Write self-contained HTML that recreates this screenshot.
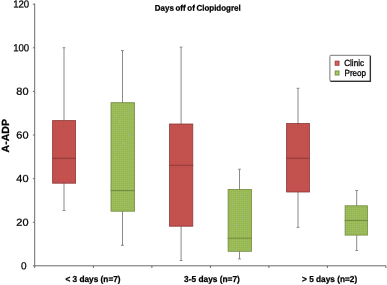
<!DOCTYPE html>
<html><head><meta charset="utf-8"><title>Days off of Clopidogrel</title>
<style>
html,body{margin:0;padding:0;background:#fff;}
body{width:387px;height:285px;overflow:hidden;}
svg{display:block;}
text{font-family:"Liberation Sans",sans-serif;fill:#000;text-rendering:geometricPrecision;}
.b{font-weight:bold;}
</style></head><body>
<svg width="387" height="285" viewBox="0 0 387 285">
<defs>
<pattern id="pr" width="2" height="2" patternUnits="userSpaceOnUse"><rect width="2" height="2" fill="#c5524f"/><rect x="1" y="1" width="1" height="1" fill="#bb4d4a"/></pattern>
<pattern id="pg" width="2" height="2" patternUnits="userSpaceOnUse"><rect width="2" height="2" fill="#9dbd5a"/><rect x="1" y="1" width="1" height="1" fill="#93b353"/></pattern>
</defs>
<rect width="387" height="285" fill="#fff"/>

<g stroke="#6a6a6a" stroke-width="1" fill="none">
<line x1="34.7" y1="3.6" x2="34.7" y2="268"/>
<line x1="32.9" y1="265.8" x2="386" y2="265.8"/>
<line x1="32.9" y1="222.3" x2="34.7" y2="222.3"/>
<line x1="32.9" y1="178.7" x2="34.7" y2="178.7"/>
<line x1="32.9" y1="135.0" x2="34.7" y2="135.0"/>
<line x1="32.9" y1="91.4" x2="34.7" y2="91.4"/>
<line x1="32.9" y1="47.8" x2="34.7" y2="47.8"/>
<line x1="32.9" y1="4.2" x2="34.7" y2="4.2"/>
<line x1="93.4" y1="265.8" x2="93.4" y2="268.0"/>
<line x1="151.9" y1="265.8" x2="151.9" y2="268.0"/>
<line x1="210.4" y1="265.8" x2="210.4" y2="268.0"/>
<line x1="268.9" y1="265.8" x2="268.9" y2="268.0"/>
<line x1="327.4" y1="265.8" x2="327.4" y2="268.0"/>
<line x1="385.9" y1="265.8" x2="385.9" y2="268.0"/>
</g>
<g stroke="#8a8a8a" stroke-width="1"><line x1="64.0" y1="47.7" x2="64.0" y2="210.5"/>
<line x1="62.6" y1="47.7" x2="65.4" y2="47.7"/><line x1="62.6" y1="210.5" x2="65.4" y2="210.5"/></g>
<rect x="52.60" y="120.60" width="23.00" height="62.60" fill="url(#pr)" stroke="#8c3a38" stroke-width="0.8"/>
<line x1="52.20" y1="158.30" x2="76.00" y2="158.30" stroke="#8c3a38" stroke-width="1"/>
<g stroke="#8a8a8a" stroke-width="1"><line x1="122.5" y1="50.6" x2="122.5" y2="245.3"/>
<line x1="121.0" y1="50.6" x2="123.9" y2="50.6"/><line x1="121.0" y1="245.3" x2="123.9" y2="245.3"/></g>
<rect x="111.00" y="102.70" width="23.50" height="108.50" fill="url(#pg)" stroke="#71893f" stroke-width="0.8"/>
<line x1="110.60" y1="190.60" x2="134.90" y2="190.60" stroke="#71893f" stroke-width="1"/>
<g stroke="#8a8a8a" stroke-width="1"><line x1="181.1" y1="47.1" x2="181.1" y2="260.5"/>
<line x1="179.7" y1="47.1" x2="182.5" y2="47.1"/><line x1="179.7" y1="260.5" x2="182.5" y2="260.5"/></g>
<rect x="169.50" y="124.00" width="23.30" height="102.20" fill="url(#pr)" stroke="#8c3a38" stroke-width="0.8"/>
<line x1="169.10" y1="165.30" x2="193.20" y2="165.30" stroke="#8c3a38" stroke-width="1"/>
<g stroke="#8a8a8a" stroke-width="1"><line x1="239.5" y1="169.2" x2="239.5" y2="258.9"/>
<line x1="238.1" y1="169.2" x2="240.9" y2="169.2"/><line x1="238.1" y1="258.9" x2="240.9" y2="258.9"/></g>
<rect x="228.10" y="189.40" width="23.40" height="61.90" fill="url(#pg)" stroke="#71893f" stroke-width="0.8"/>
<line x1="227.70" y1="238.20" x2="251.90" y2="238.20" stroke="#71893f" stroke-width="1"/>
<g stroke="#8a8a8a" stroke-width="1"><line x1="298.0" y1="88.3" x2="298.0" y2="227.4"/>
<line x1="296.6" y1="88.3" x2="299.4" y2="88.3"/><line x1="296.6" y1="227.4" x2="299.4" y2="227.4"/></g>
<rect x="286.60" y="123.40" width="22.90" height="68.60" fill="url(#pr)" stroke="#8c3a38" stroke-width="0.8"/>
<line x1="286.20" y1="158.20" x2="309.90" y2="158.20" stroke="#8c3a38" stroke-width="1"/>
<g stroke="#8a8a8a" stroke-width="1"><line x1="356.7" y1="190.5" x2="356.7" y2="250.5"/>
<line x1="355.3" y1="190.5" x2="358.1" y2="190.5"/><line x1="355.3" y1="250.5" x2="358.1" y2="250.5"/></g>
<rect x="345.10" y="205.80" width="22.30" height="29.30" fill="url(#pg)" stroke="#71893f" stroke-width="0.8"/>
<line x1="344.70" y1="220.40" x2="367.80" y2="220.40" stroke="#71893f" stroke-width="1"/>
<g fill="#aeb4bd"><rect x="119" y="121" width="1" height="1"/><rect x="125" y="113" width="1" height="1"/><rect x="123" y="143" width="1" height="1"/><rect x="115" y="157" width="1" height="1"/><rect x="115" y="150" width="1" height="1"/><rect x="115" y="115" width="1" height="1"/><rect x="116" y="128" width="1" height="1"/><rect x="124" y="202" width="1" height="1"/><rect x="124" y="146" width="1" height="1"/><rect x="130" y="111" width="1" height="1"/><rect x="128" y="135" width="1" height="1"/><rect x="116" y="118" width="1" height="1"/><rect x="234" y="224" width="1" height="1"/><rect x="242" y="213" width="1" height="1"/><rect x="240" y="196" width="1" height="1"/><rect x="232" y="204" width="1" height="1"/><rect x="242" y="216" width="1" height="1"/><rect x="236" y="225" width="1" height="1"/><rect x="355" y="216" width="1" height="1"/><rect x="360" y="224" width="1" height="1"/><rect x="356" y="228" width="1" height="1"/></g>
<text x="21.10" y="269.30" transform="rotate(0.03 21.10 269.30)" font-size="10.2" stroke="#000" stroke-width="0.25" textLength="5.6" lengthAdjust="spacingAndGlyphs">0</text>
<text x="16.30" y="225.68" transform="rotate(0.03 16.30 225.68)" font-size="10.2" stroke="#000" stroke-width="0.25" textLength="12.2" lengthAdjust="spacingAndGlyphs">20</text>
<text x="16.30" y="182.06" transform="rotate(0.03 16.30 182.06)" font-size="10.2" stroke="#000" stroke-width="0.25" textLength="12.2" lengthAdjust="spacingAndGlyphs">40</text>
<text x="16.30" y="138.44" transform="rotate(0.03 16.30 138.44)" font-size="10.2" stroke="#000" stroke-width="0.25" textLength="12.2" lengthAdjust="spacingAndGlyphs">60</text>
<text x="16.30" y="94.82" transform="rotate(0.03 16.30 94.82)" font-size="10.2" stroke="#000" stroke-width="0.25" textLength="12.2" lengthAdjust="spacingAndGlyphs">80</text>
<text x="13.15" y="51.20" transform="rotate(0.03 13.15 51.20)" font-size="10.2" stroke="#000" stroke-width="0.25" textLength="16.1" lengthAdjust="spacingAndGlyphs">100</text>
<text x="13.15" y="7.58" transform="rotate(0.03 13.15 7.58)" font-size="10.2" stroke="#000" stroke-width="0.25" textLength="16.1" lengthAdjust="spacingAndGlyphs">120</text>
<text class="b" x="154.80" y="10.70" transform="rotate(0.03 154.80 10.70)" font-size="8.3" stroke="#000" stroke-width="0.25" textLength="85.9" lengthAdjust="spacingAndGlyphs" word-spacing="-0.6">Days off of Clopidogrel</text>
<text class="b" font-size="10.4" stroke="#000" stroke-width="0.25" text-anchor="middle" textLength="33.4" lengthAdjust="spacingAndGlyphs" transform="translate(9.4,135.75) rotate(-90)">A-ADP</text>
<text class="b" x="65.40" y="282.00" transform="rotate(0.03 65.40 282.00)" font-size="8.7" stroke="#000" stroke-width="0.25" textLength="55.2" lengthAdjust="spacingAndGlyphs">&lt; 3 days (n=7)</text>
<text class="b" x="184.10" y="282.00" transform="rotate(0.03 184.10 282.00)" font-size="8.7" stroke="#000" stroke-width="0.25" textLength="55.8" lengthAdjust="spacingAndGlyphs">3-5 days (n=7)</text>
<text class="b" x="302.00" y="282.00" transform="rotate(0.03 302.00 282.00)" font-size="8.7" stroke="#000" stroke-width="0.25" textLength="55.2" lengthAdjust="spacingAndGlyphs">&gt; 5 days (n=2)</text>
<rect x="329.9" y="55.3" width="40.4" height="25.9" rx="1" fill="#fff" stroke="#777" stroke-width="1"/>
<path d="M330.4 81.3H370.4V55.8" fill="none" stroke="#333" stroke-width="1.3"/>
<rect x="334.7" y="60.7" width="4.8" height="5.1" fill="#a9423f"/><rect x="335.7" y="61.7" width="2.8" height="3.1" fill="#d4625f"/>
<rect x="334.7" y="70.5" width="4.8" height="5.0" fill="#779440"/><rect x="335.7" y="71.5" width="2.8" height="3.0" fill="#a9c866"/>
<text x="344.20" y="66.30" transform="rotate(0.03 344.20 66.30)" font-size="9.0" stroke="#000" stroke-width="0.3" textLength="19.8" lengthAdjust="spacingAndGlyphs">Clinic</text>
<text x="344.50" y="75.80" transform="rotate(0.03 344.50 75.80)" font-size="9.0" stroke="#000" stroke-width="0.3" textLength="21.6" lengthAdjust="spacingAndGlyphs">Preop</text>
</svg>
</body></html>
